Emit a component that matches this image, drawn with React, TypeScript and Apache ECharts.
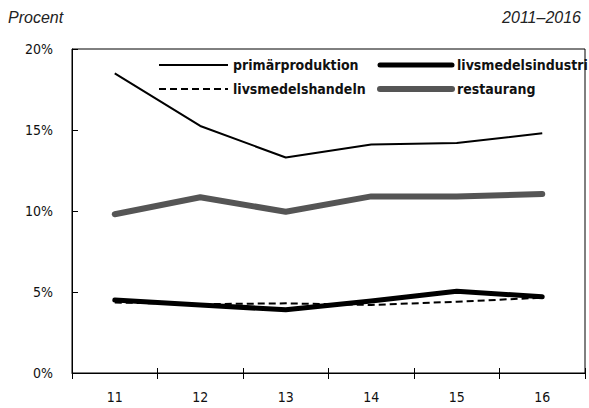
import React, { useEffect, useRef } from "react";
import * as echarts from "echarts";

const years = ["11", "12", "13", "14", "15", "16"];
const primarproduktion = [18.5, 15.25, 13.3, 14.1, 14.2, 14.8];
const livsmedelsindustri = [4.5, 4.2, 3.9, 4.45, 5.05, 4.7];
const livsmedelshandeln = [4.35, 4.25, 4.3, 4.2, 4.4, 4.65];
const restaurang = [9.8, 10.85, 9.95, 10.9, 10.9, 11.05];
const yTicks = [0, 5, 10, 15, 20];

const COND = '"DejaVu Sans Condensed", "DejaVu Sans", sans-serif';

export default function App() {
  const ref = useRef<HTMLDivElement>(null);
  useEffect(() => {
    if (!ref.current) return;
    const chart = echarts.init(ref.current, null, { renderer: "svg" });
    const legendText = { fontFamily: COND, fontWeight: "bold", fontSize: 14, color: "#111" };
    chart.setOption({
      animation: false,
      backgroundColor: "#fff",
      textStyle: { fontFamily: COND },
      grid: {
        left: 72,
        right: 4,
        top: 49,
        bottom: 35,
        show: true,
        borderColor: "#000",
        borderWidth: 1,
        backgroundColor: "transparent",
      },
      graphic: [
        {
          type: "text",
          left: 8,
          top: 9,
          style: {
            text: "Procent",
            font: 'italic 16px "Liberation Sans", Arial, sans-serif',
            fill: "#222",
          },
        },
        {
          type: "text",
          right: 8,
          top: 9,
          style: {
            text: "2011–2016",
            font: 'italic 16px "Liberation Sans", Arial, sans-serif',
            fill: "#222",
          },
        },
      ],
      legend: [
        {
          orient: "vertical",
          left: 153,
          top: 53,
          itemWidth: 69,
          itemHeight: 14,
          itemGap: 10,
          itemStyle: { opacity: 0 },
          data: [
            { name: "primärproduktion", lineStyle: { width: 2, color: "#000" } },
            { name: "livsmedelshandeln", lineStyle: { width: 2, color: "#000", type: [7, 4] } },
          ],
          textStyle: legendText,
        },
        {
          orient: "vertical",
          left: 372,
          top: 53,
          itemWidth: 72,
          itemHeight: 14,
          itemGap: 10,
          itemStyle: { opacity: 0 },
          data: [
            { name: "livsmedelsindustri", lineStyle: { width: 5, color: "#000", cap: "round" } },
            { name: "restaurang", lineStyle: { width: 6, color: "#555", cap: "round" } },
          ],
          textStyle: legendText,
        },
      ],
      xAxis: [
        {
          type: "category",
          data: years,
          position: "bottom",
          boundaryGap: true,
          axisLine: { lineStyle: { color: "#000", width: 1 } },
          axisTick: { show: true, inside: false, length: 6, lineStyle: { color: "#000" } },
          axisLabel: { color: "#111", fontSize: 14, fontFamily: COND, margin: 17 },
          splitLine: { show: false },
        },
        {
          type: "category",
          data: years,
          position: "bottom",
          boundaryGap: true,
          axisLine: { show: false },
          axisTick: { show: true, inside: true, length: 5, lineStyle: { color: "#000" } },
          axisLabel: { show: false },
          splitLine: { show: false },
        },
      ],
      yAxis: {
        type: "value",
        min: yTicks[0],
        max: yTicks[yTicks.length - 1],
        interval: 5,
        axisLine: { show: true, lineStyle: { color: "#000", width: 1 } },
        axisTick: { show: true, inside: true, length: 6, lineStyle: { color: "#000" } },
        axisLabel: {
          color: "#111",
          fontSize: 14,
          fontFamily: COND,
          margin: 19,
          formatter: "{value}%",
        },
        splitLine: { show: false },
      },
      series: [
        {
          name: "primärproduktion",
          type: "line",
          data: primarproduktion,
          symbol: "none",
          lineStyle: { color: "#000", width: 2 },
          itemStyle: { color: "#000" },
        },
        {
          name: "livsmedelshandeln",
          type: "line",
          data: livsmedelshandeln,
          symbol: "none",
          lineStyle: { color: "#000", width: 2, type: [7, 4] },
          itemStyle: { color: "#000" },
          z: 3,
        },
        {
          name: "livsmedelsindustri",
          type: "line",
          data: livsmedelsindustri,
          symbol: "none",
          lineStyle: { color: "#000", width: 5, cap: "round", join: "round" },
          itemStyle: { color: "#000" },
          z: 2,
        },
        {
          name: "restaurang",
          type: "line",
          data: restaurang,
          symbol: "none",
          lineStyle: { color: "#555", width: 6, cap: "round", join: "round" },
          itemStyle: { color: "#555" },
        },
      ],
    });
    return () => chart.dispose();
  }, []);
  return (
    <>
      <style>{`#chart-root svg text { font-stretch: condensed !important; }`}</style>
      <div
        id="chart-root"
        ref={ref}
        style={{ position: "fixed", left: 0, top: 0, width: 589, height: 408 }}
      />
    </>
  );
}
